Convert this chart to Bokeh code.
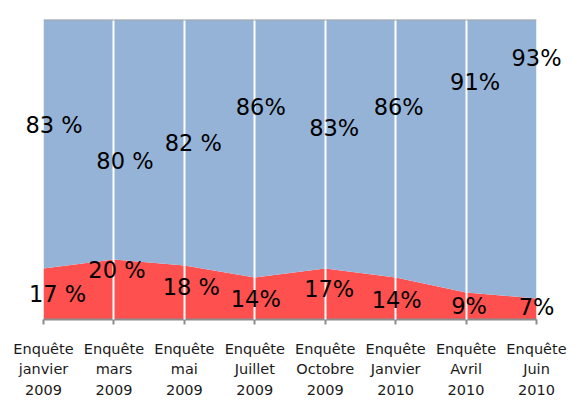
from bokeh.plotting import figure
from bokeh.models import Range1d, FixedTicker, ColumnDataSource, Span
from bokeh.core.properties import value
from bokeh.embed import file_html
from bokeh.resources import INLINE

# ---- data ----
categories = ["Enquête\njanvier\n2009", "Enquête\nmars\n2009", "Enquête\nmai\n2009",
              "Enquête\nJuillet\n2009", "Enquête\nOctobre\n2009", "Enquête\nJanvier\n2010",
              "Enquête\nAvril\n2010", "Enquête\nJuin\n2010"]
red_values = [17, 20, 18, 14, 17, 14, 9, 7]
blue_values = [83, 80, 82, 86, 83, 86, 91, 93]
blue_labels = ["83 %", "80 %", "82 %", "86%", "83%", "86%", "91%", "93%"]
red_labels = ["17 %", "20 %", "18 %", "14%", "17%", "14%", "9%", "7%"]
# label anchor positions (data space)
blue_label_y = [65, 52.8, 58.7, 71, 63.7, 71, 79.2, 87.1]
blue_label_dx = [10.5, 11, 9, 6, 9, 3, 9, 0]
red_label_y = [8.6, 16.5, 10.9, 6.9, 10.2, 6.6, 4.6, 4.3]
red_label_dx = [14, 3, 7, 1, 4, 1, 3, 0]

xs = list(range(len(categories)))
top = [r + b for r, b in zip(red_values, blue_values)]

src = ColumnDataSource(dict(x=xs, red=red_values, top=top, zero=[0] * len(xs)))

p = figure(width=575, height=401, output_backend="svg", toolbar_location=None,
           x_range=Range1d(0, len(xs) - 1), y_range=Range1d(0, 100),
           y_axis_location=None, min_border_left=43, min_border_right=39,
           min_border_top=19, min_border_bottom=79)
p.outline_line_color = None
p.background_fill_color = "white"
p.border_fill_color = "white"

p.varea(x="x", y1="zero", y2="red", source=src, fill_color="#FF5050")
p.varea(x="x", y1="red", y2="top", source=src, fill_color="#95B3D7")

p.ygrid.visible = False
p.xgrid.grid_line_color = "white"
p.xgrid.grid_line_width = 2
p.xgrid.level = "annotation"
p.xaxis.ticker = FixedTicker(ticks=xs)
p.xaxis.major_label_overrides = {i: c for i, c in enumerate(categories)}
p.xaxis.major_label_text_font = "DejaVu Sans"
p.xaxis.major_label_text_font_size = "14.5px"
p.xaxis.major_label_text_color = "#1a1a1a"
p.xaxis.major_label_text_line_height = 1.3
p.xaxis.major_label_standoff = 16
p.xaxis.axis_line_color = "#8c8c8c"
p.xaxis.axis_line_width = 2
p.xaxis.major_tick_line_color = "#8c8c8c"
p.xaxis.major_tick_line_width = 2
p.xaxis.major_tick_out = 5
p.xaxis.major_tick_in = 0
p.xaxis.minor_tick_line_color = None

p.add_layout(Span(location=100, dimension="width", line_color="#a6a6a6", line_width=2))

bsrc = ColumnDataSource(dict(x=xs, y=blue_label_y, t=blue_labels, dx=blue_label_dx))
rsrc = ColumnDataSource(dict(x=xs, y=red_label_y, t=red_labels, dx=red_label_dx))
for s in (bsrc, rsrc):
    r = p.text(x="x", y="y", text="t", x_offset="dx", source=s,
               text_font=value("DejaVu Sans"), text_font_size="22.5px",
               text_color="black", text_align="center", text_baseline="middle")
    r.level = "overlay"

open("out.html", "w").write(file_html(p, INLINE))
